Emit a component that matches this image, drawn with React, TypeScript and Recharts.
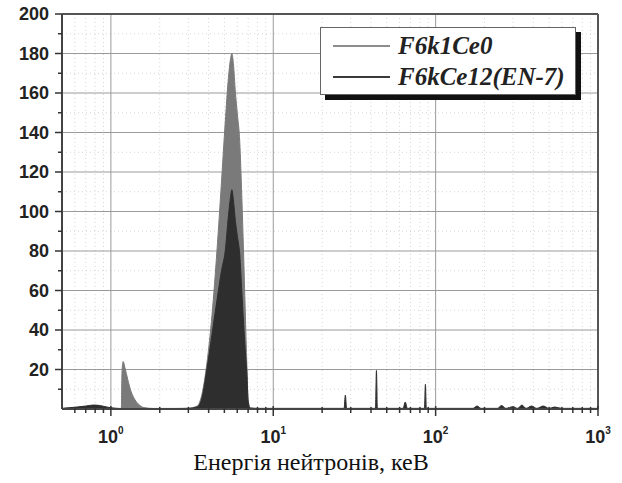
import {
  ComposedChart,
  Area,
  XAxis,
  YAxis,
  CartesianGrid,
  ReferenceLine,
  Legend,
} from 'recharts';

// energy, keV
const energies = [
  0.5, 0.55, 0.62, 0.7, 0.78, 0.85, 0.92, 1.0, 1.1, 1.16, 1.17, 1.19, 1.22, 1.27, 1.33, 1.4, 1.5, 1.6, 1.8,
  2.5, 3.0, 3.4, 3.65, 3.9, 4.2, 4.5, 4.8, 5.06, 5.3, 5.45, 5.56, 5.68, 5.85, 6.0, 6.22, 6.4, 6.56, 6.72,
  6.88, 7.0, 7.2, 8, 20, 27.3, 27.8, 28.3, 42.6, 43.2, 43.8, 63, 65, 67, 85.3, 86.5, 87.7, 170, 180, 190,
  240, 255, 270, 300, 320, 340, 360, 390, 420, 460, 500, 540, 600, 1000,
];

// F6k1Ce0
const seriesA = [
  0.3, 0.5, 0.8, 1.2, 1.5, 1.3, 0.8, 0.4, 0.3, 0.3, 18, 24, 21, 15, 9, 5, 2, 0.7, 0.3,
  0.3, 0.4, 1.5, 8, 23, 48, 80, 115, 145, 168, 177, 180, 175, 160, 150, 135, 108, 80, 50,
  22, 5, 0.5, 0.3, 0.3, 0.3, 0.5, 0.3, 0.3, 0.5, 0.3, 0.3, 0.5, 0.3, 0.3, 0.5, 0.3, 0.3, 0.5, 0.3,
  0.3, 0.3, 0.3, 0.3, 0.3, 0.3, 0.3, 0.3, 0.3, 0.3, 0.3, 0.3, 0.3, 0.3,
];

// F6kCe12(EN-7)
const seriesB = [
  0.3, 0.6, 1.0, 1.5, 2.0, 1.8, 1.2, 0.6, 0.3, 0.2, 0.2, 0.2, 0.2, 0.2, 0.2, 0.2, 0.2, 0.2, 0.2,
  0.2, 0.3, 1, 6, 20, 38, 55, 70, 80, 98, 107, 111, 106, 95, 88, 78, 60, 44, 30,
  18, 4, 0.5, 0.3, 0.3, 0.3, 7, 0.3, 0.3, 19.5, 0.3, 0.3, 3.5, 0.3, 0.3, 12.5, 0.3, 0.3, 1.5, 0.3,
  0.3, 1.8, 0.3, 1.2, 0.3, 2, 0.3, 1.5, 0.3, 1.5, 0.3, 1, 0.3, 0.3,
];

const seriesNames = ['F6k1Ce0', 'F6kCe12(EN-7)'];
const fills = ['#7a7a7a', '#2e2e2e'];
const legendColors = ['#8c8c8c', '#3a3a3a'];

const majorX = [1, 10, 100, 1000];
const minorX = [
  0.6, 0.7, 0.8, 0.9, 2, 3, 4, 5, 6, 7, 8, 9, 20, 30, 40, 50, 60, 70, 80, 90,
  200, 300, 400, 500, 600, 700, 800, 900,
];
const majorY = [20, 40, 60, 80, 100, 120, 140, 160, 180, 200];
const minorY = [10, 30, 50, 70, 90, 110, 130, 150, 170, 190];

const table = energies.map((e, i) => ({ e, a: seriesA[i], b: seriesB[i] }));

const XTick = (props: any) => {
  const { x, y, payload } = props;
  const v = payload.value;
  const major = majorX.includes(v);
  return (
    <g>
      <line x1={x} x2={x} y1={major ? y - 3 : y - 2} y2={y + (major ? 7 : 4)} stroke="#333" strokeWidth={1.5} />
      {major && (
        <text
          x={x}
          y={y + 34}
          textAnchor="middle"
          fontFamily="Liberation Sans, Arial, sans-serif"
          fontWeight="bold"
          fontSize={18}
          fill="#222"
        >
          <tspan>10</tspan>
          <tspan dy={-9} fontSize={10}>{Math.round(Math.log10(v))}</tspan>
        </text>
      )}
    </g>
  );
};

const YTick = (props: any) => {
  const { x, y, payload } = props;
  const v = payload.value;
  const major = majorY.includes(v);
  return (
    <g>
      <line x1={x - (major ? 7 : 4)} x2={x} y1={y} y2={y} stroke="#333" strokeWidth={1.5} />
      {major && (
        <text
          x={x - 13}
          y={y + 6}
          textAnchor="end"
          fontFamily="Liberation Sans, Arial, sans-serif"
          fontWeight="bold"
          fontSize={18}
          fill="#222"
        >
          {v}
        </text>
      )}
    </g>
  );
};

const LegendBox = () => (
  <div
    style={{
      width: 256,
      height: 68,
      border: '1px solid #666',
      background: '#fff',
      boxShadow: '5px 5px 0 #111',
      boxSizing: 'border-box',
      fontFamily: 'Liberation Serif, Times New Roman, serif',
      fontStyle: 'italic',
      fontWeight: 'bold',
      fontSize: 25,
      color: '#222',
      paddingTop: 2,
    }}
  >
    {seriesNames.map((n, i) => (
      <div key={n} style={{ display: 'flex', alignItems: 'center', height: 31 }}>
        <div style={{ width: 57, height: 2, background: legendColors[i], marginLeft: 12, marginRight: 8 }} />
        <span>{n}</span>
      </div>
    ))}
  </div>
);

const TitleLabel = (props: any) => {
  const { viewBox } = props;
  return (
    <text
      x={viewBox.x + viewBox.width / 2 - 19}
      y={viewBox.y + viewBox.height - 13}
      textAnchor="middle"
      fontFamily="Liberation Serif, Times New Roman, serif"
      fontSize={24}
      fill="#111"
    >
      Енергія нейтронів, кеВ
    </text>
  );
};

// map values through the axis scale (v3 may hand over a function or a wrapper with .map)
const mapScale = (axis: any, v: number) => {
  const s = axis && axis.scale;
  if (typeof s === 'function') return s(v);
  if (s && typeof s.map === 'function') return s.map(v);
  return NaN;
};
const gridX = (vals: number[]) => ({ xAxis }: any) =>
  vals.map((v) => mapScale(xAxis, v)).filter((p) => Number.isFinite(p));
const gridY = (vals: number[]) => ({ yAxis }: any) =>
  vals.map((v) => mapScale(yAxis, v)).filter((p) => Number.isFinite(p));

export default function App() {
  return (
    <div>
      <style>{'body{margin:0}'}</style>
      <ComposedChart width={622} height={483} data={table} margin={{ top: 14, right: 24, bottom: 0, left: 0 }}>
        <CartesianGrid
          stroke="#d6d6d6"
          strokeDasharray="1 3"
          verticalCoordinatesGenerator={gridX(minorX)}
          horizontalCoordinatesGenerator={gridY(minorY)}
        />
        <CartesianGrid
          stroke="#9a9a9a"
          verticalCoordinatesGenerator={gridX(majorX.slice(0, 3))}
          horizontalCoordinatesGenerator={gridY(majorY.slice(0, 9))}
        />
        <XAxis
          dataKey="e"
          type="number"
          scale="log"
          domain={[0.5, 1000]}
          allowDataOverflow
          ticks={[...majorX, ...minorX]}
          interval={0}
          tickLine={false}
          tickSize={0}
          tickMargin={0}
          tick={<XTick />}
          axisLine={{ stroke: '#444', strokeWidth: 2 }}
          height={74}
          label={<TitleLabel />}
        />
        <YAxis
          type="number"
          domain={[0, 200]}
          allowDataOverflow
          ticks={[...majorY, ...minorY]}
          interval={0}
          tickLine={false}
          tickSize={0}
          tickMargin={0}
          tick={<YTick />}
          axisLine={{ stroke: '#444', strokeWidth: 2 }}
          width={62}
        />
        <Area
          dataKey="a"
          name={seriesNames[0]}
          type="monotone"
          stroke={fills[0]}
          fill={fills[0]}
          fillOpacity={1}
          strokeWidth={1}
          isAnimationActive={false}
        />
        <Area
          dataKey="b"
          name={seriesNames[1]}
          type="monotone"
          stroke={fills[1]}
          fill={fills[1]}
          fillOpacity={1}
          strokeWidth={1}
          isAnimationActive={false}
        />
        <ReferenceLine y={200} stroke="#555" strokeWidth={2} />
        <ReferenceLine x={1000} stroke="#555" strokeWidth={2} />
        <Legend
          layout="horizontal"
          verticalAlign="middle"
          align="center"
          content={<LegendBox />}
          wrapperStyle={{ position: 'absolute', top: 27, left: 320, width: 'auto' }}
        />
      </ComposedChart>
    </div>
  );
}
